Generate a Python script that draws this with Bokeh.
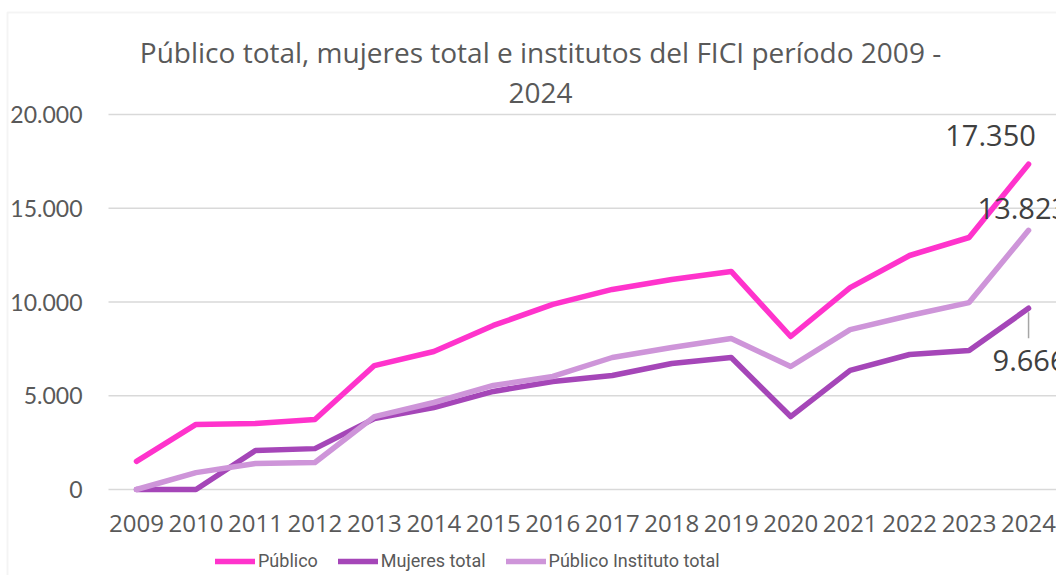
from bokeh.plotting import figure
from bokeh.models import Range1d, FixedTicker, Legend, LegendItem, Label, BoxAnnotation
from bokeh.embed import file_html
from bokeh.resources import INLINE

years = list(range(2009, 2025))
publico = [1500, 3470, 3520, 3730, 6610, 7360, 8750, 9870, 10670, 11200, 11630, 8160, 10770, 12480, 13440, 17350]
mujeres = [0, 0, 2080, 2180, 3780, 4370, 5230, 5760, 6080, 6720, 7040, 3890, 6350, 7200, 7410, 9666]
instituto = [0, 900, 1390, 1440, 3890, 4640, 5550, 6030, 7040, 7570, 8050, 6560, 8530, 9280, 9970, 13823]
series_names = ["Público", "Mujeres total", "Público Instituto total"]
y_ticks = [0, 5000, 10000, 15000, 20000]
y_tick_labels = ["0", "5.000", "10.000", "15.000", "20.000"]
title_lines = ["Público total, mujeres total e institutos del FICI período 2009 -", "2024"]

colors = ["#FF33CC", "#A546B8", "#CE95D9"]
GRAY = "#595959"

# layout (pixels)
W, H = 1056, 575
PLOT_LEFT_PX = 108
PX_TOP_TICK, PX_ZERO = 114, 489     # pixel rows of the top tick and of zero
X_FIRST_PX, X_STEP_PX = 136, 59.47  # pixel column of first category, spacing
BORDER_X_PX, BORDER_Y_PX = 7, 12

upp = (y_ticks[-1] - y_ticks[0]) / (PX_ZERO - PX_TOP_TICK)
def px_to_y(py):
    return y_ticks[0] + (PX_ZERO - py) * upp
def px_to_x(px):
    return years[0] + (px - X_FIRST_PX) / X_STEP_PX

p = figure(width=W, height=H, output_backend="svg", toolbar_location=None,
           x_range=Range1d(px_to_x(0), px_to_x(W)), y_range=Range1d(px_to_y(H), px_to_y(0)))
p.min_border_left = 0
p.min_border_right = 0
p.min_border_top = 0
p.min_border_bottom = 0
p.outline_line_color = None
p.background_fill_color = "white"
p.border_fill_color = "white"

# chart-area border (left and top edges visible)
p.add_layout(BoxAnnotation(left=px_to_x(BORDER_X_PX), top=px_to_y(BORDER_Y_PX),
                           right=px_to_x(W + 20), bottom=px_to_y(H + 20),
                           fill_alpha=0, line_color="#D9D9D9", line_width=2))

# axes
p.xaxis.fixed_location = 0
p.yaxis.fixed_location = px_to_x(PLOT_LEFT_PX)
p.xaxis.ticker = FixedTicker(ticks=years)
p.xaxis.major_label_overrides = {y: str(y) for y in years}
p.yaxis.ticker = FixedTicker(ticks=y_ticks)
p.yaxis.major_label_overrides = {t: l for t, l in zip(y_ticks, y_tick_labels)}
for ax in (p.xaxis, p.yaxis):
    ax.axis_line_color = None
    ax.major_tick_line_color = None
    ax.minor_tick_line_color = None
    ax.major_label_text_color = GRAY
p.xaxis.major_label_text_font = "Open Sans"
p.xaxis.major_label_text_font_size = "24px"
p.xaxis.major_label_standoff = 19
p.yaxis.major_label_text_font = "Lato"
p.yaxis.major_label_text_font_size = "23px"
p.yaxis.major_label_standoff = 20

p.xgrid.grid_line_color = None
p.ygrid.grid_line_color = None
for t in y_ticks:
    p.segment(x0=[px_to_x(PLOT_LEFT_PX)], y0=[t], x1=[px_to_x(W + 10)], y1=[t],
              line_color="#D9D9D9", line_width=1.5)

renderers = []
for data, c in zip([publico, mujeres, instituto], colors):
    r = p.line(years, data, line_color=c, line_width=5.5, line_join="round", line_cap="round")
    renderers.append(r)

legend = Legend(items=[LegendItem(label=n, renderers=[r]) for n, r in zip(series_names, renderers)],
                orientation="horizontal", location=(215, 4))
legend.label_text_font = "Roboto"
legend.label_text_font_size = "18px"
legend.label_text_color = GRAY
legend.glyph_width = 40
legend.glyph_height = 20
legend.label_standoff = 3
legend.spacing = 20
legend.padding = 0
legend.margin = 0
legend.border_line_color = None
legend.background_fill_alpha = 0
p.add_layout(legend)

# title
for i, line in enumerate(title_lines):
    p.add_layout(Label(x=px_to_x(540), y=y_ticks[-1], y_offset=63 - 41 * i, text=line,
                       text_align="center", text_baseline="middle", text_font="Open Sans",
                       text_font_size="28px", text_color=GRAY))

def fmt(v):
    return f"{v:,}".replace(",", ".")

p.add_layout(Label(x=years[-1], y=publico[-1], x_offset=-38, y_offset=29, text=fmt(publico[-1]),
                   text_align="center", text_baseline="middle", text_font="Open Sans",
                   text_font_size="29px", text_color="#404040"))
p.add_layout(Label(x=years[-1], y=instituto[-1], x_offset=-51, y_offset=22, text=fmt(instituto[-1]),
                   text_align="left", text_baseline="middle", text_font="Open Sans",
                   text_font_size="29px", text_color="#404040"))
p.add_layout(Label(x=years[-1], y=mujeres[-1], x_offset=-36, y_offset=-52, text=fmt(mujeres[-1]),
                   text_align="left", text_baseline="middle", text_font="Open Sans",
                   text_font_size="29px", text_color="#404040"))
p.segment(x0=[years[-1]], y0=[mujeres[-1] - 4 * upp], x1=[years[-1]], y1=[mujeres[-1] - 30 * upp],
          line_color="#A6A6A6", line_width=1.5)

open("out.html", "w").write(file_html(p, INLINE))
